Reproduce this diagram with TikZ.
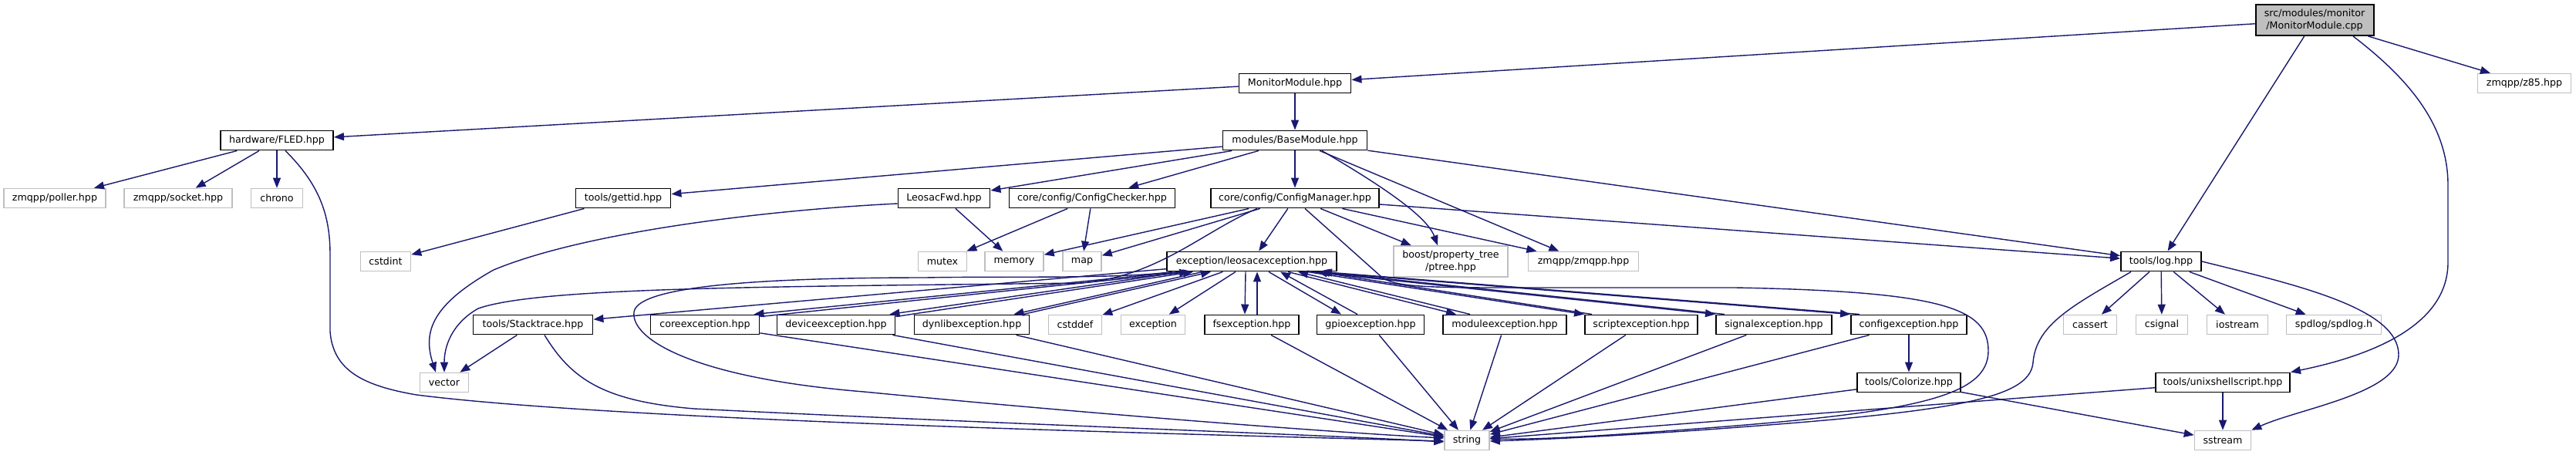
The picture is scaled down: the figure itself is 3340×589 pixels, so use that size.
\documentclass[tikz,border=0pt]{standalone}
\usepackage{fontspec}
\setmainfont{DejaVu Sans}
\usetikzlibrary{arrows.meta, calc}
\definecolor{edgeblue}{HTML}{191970}
\definecolor{sysgray}{HTML}{BFBFBF}

\begin{document}
\begin{tikzpicture}[
    x=0.02cm, y=-0.02cm,
    box/.style={
        draw=black, line width=1.1pt, fill=white, minimum height=0.5cm,
        inner sep=1pt, font=\fontsize{7.2}{8.6}\selectfont
    },
    sysbox/.style={box, draw=sysgray, line width=0.9pt},
    rootbox/.style={box, fill=sysgray, minimum height=0.8cm, align=center},
    boxw/.style={minimum width=#1*0.02cm},
    arrow/.style={
        -{Triangle[length=0.26cm, width=0.2cm]}, line width=0.8pt, edgeblue
    }
]
\useasboundingbox (0,0) rectangle (3340,589);

% top rows
\node[rootbox, boxw=153] (cpp) at (3001,26) {src/modules/monitor\\/MonitorModule.cpp};
\node[box, boxw=145] (mmh) at (1679,108) {MonitorModule.hpp};
\node[sysbox, boxw=121] (z85) at (3273,108) {zmqpp/z85.hpp};
\node[box, boxw=146] (fled) at (359,182) {hardware/FLED.hpp};
\node[box, boxw=187] (base) at (1679,182) {modules/BaseModule.hpp};

% third row
\node[sysbox, boxw=132] (poller) at (71,257) {zmqpp/poller.hpp};
\node[sysbox, boxw=140] (socket) at (231,257) {zmqpp/socket.hpp};
\node[sysbox, boxw=67] (chrono) at (359,257) {chrono};
\node[box, boxw=123] (gettid) at (808,257) {tools/gettid.hpp};
\node[box, boxw=119] (fwd) at (1224,257) {LeosacFwd.hpp};
\node[box, boxw=215] (checker) at (1416,257) {core/config/ConfigChecker.hpp};
\node[box, boxw=218] (manager) at (1679,257) {core/config/ConfigManager.hpp};

% fourth row
\node[sysbox, boxw=65] (cstdint) at (500,339) {cstdint};
\node[sysbox, boxw=63] (mutex) at (1222,339) {mutex};
\node[sysbox, boxw=76] (memory) at (1315,339) {memory};
\node[sysbox, boxw=50] (map) at (1403,339) {map};
\node[box, boxw=220] (leosac) at (1623,339) {exception/leosacexception.hpp};
\node[sysbox, boxw=148, minimum height=0.8cm, align=center] (ptree) at (1881,339) {boost/property\_tree\\/ptree.hpp};
\node[sysbox, boxw=143] (zmqpp) at (2053,339) {zmqpp/zmqpp.hpp};
\node[box, boxw=104] (log) at (2802,339) {tools/log.hpp};

% exception row
\node[box, boxw=155] (stack) at (691,421) {tools/Stacktrace.hpp};
\node[box, boxw=141] (coreex) at (914,421) {coreexception.hpp};
\node[box, boxw=153] (devex) at (1084,421) {deviceexception.hpp};
\node[box, boxw=149] (dynex) at (1260,421) {dynlibexception.hpp};
\node[sysbox, boxw=69] (cstddef) at (1394,421) {cstddef};
\node[sysbox, boxw=83] (excep) at (1495,421) {exception};
\node[box, boxw=122] (fsex) at (1623,421) {fsexception.hpp};
\node[box, boxw=139] (gpioex) at (1777,421) {gpioexception.hpp};
\node[box, boxw=160] (modex) at (1951,421) {moduleexception.hpp};
\node[box, boxw=146] (screx) at (2128,421) {scriptexception.hpp};
\node[box, boxw=150] (sigex) at (2300,421) {signalexception.hpp};
\node[box, boxw=150] (cfgex) at (2475,421) {configexception.hpp};
\node[sysbox, boxw=69] (cassert) at (2710,421) {cassert};
\node[sysbox, boxw=67] (csignal) at (2803,421) {csignal};
\node[sysbox, boxw=79] (iostream) at (2901,421) {iostream};
\node[sysbox, boxw=123] (spdlog) at (3026,421) {spdlog/spdlog.h};

% bottom rows
\node[sysbox, boxw=63] (vector) at (576,496) {vector};
\node[box, boxw=134] (colorize) at (2475,496) {tools/Colorize.hpp};
\node[box, boxw=174] (unix) at (2882,496) {tools/unixshellscript.hpp};
\node[sysbox, boxw=58] (string) at (1902,571) {string};
\node[sysbox, boxw=73] (sstream) at (2882,571) {sstream};

% MonitorModule.cpp
\draw[arrow] (cpp) -- (mmh);
\draw[arrow] (cpp) -- (z85);
\draw[arrow] (cpp) -- (log);
\draw[arrow] ($(cpp.south)+(50,0)$) .. controls (3120,100) and (3174,160) .. (3174,240)
    -- (3174,340) .. controls (3174,420) and (3080,460) .. (unix.north east);

% MonitorModule.hpp, FLED.hpp
\draw[arrow] (mmh) -- (fled);
\draw[arrow] (mmh) -- (base);
\foreach \n in {poller, socket, chrono} \draw[arrow] (fled) -- (\n);
\draw[arrow] ($(fled.south)+(11,0)$) .. controls (415,240) and (428,280) .. (428,330)
    -- (428,430) .. controls (432,480) and (470,500) .. (540,512)
    .. controls (800,545) and (1500,562) .. ($(string.west)+(0,1)$);

% BaseModule.hpp
\foreach \n in {gettid, fwd, checker, manager, zmqpp, log} \draw[arrow] (base) -- (\n);
\draw[arrow] ($(base.south)+(35,0)$) .. controls (1790,240) and (1850,280) .. ($(ptree.north)+(-17,0)$);

\draw[arrow] (gettid) -- (cstdint);
\draw[arrow] (fwd) -- (memory);
\draw[arrow] ($(fwd.west)+(0,7)$) .. controls (1000,272) and (760,300) .. (640,350)
    .. controls (560,395) and (548,430) .. ($(vector.north)+(-11,0)$);
\draw[arrow] (checker) -- (mutex);
\draw[arrow] (checker) -- (map);

% ConfigManager.hpp
\foreach \n in {memory, map, leosac, ptree, zmqpp, log} \draw[arrow] (manager) -- (\n);
\draw[arrow] ($(manager.south)+(-49,0)$) .. controls (1560,300) and (1500,360) .. (1400,367)
    .. controls (1000,372) and (700,372) .. (620,400)
    .. controls (585,420) and (576,450) .. (vector.north);
\draw[arrow] ($(manager.south)+(13,0)$) -- (1790,358) .. controls (1805,372) and (1850,373) .. (1950,373)
    -- (2250,373) .. controls (2520,378) and (2578,400) .. (2578,455)
    .. controls (2578,515) and (2480,535) .. (2200,556)
    .. controls (2080,565) and (2000,570) .. ($(string.east)+(0,-2)$);

% leosacexception.hpp
\draw[arrow] (leosac) -- (stack);
\draw[arrow] (leosac) -- (cstddef);
\draw[arrow] (leosac) -- (excep);
\draw[arrow] ($(leosac.south west)+(8,0)$) .. controls (1450,362) and (1300,358) .. (1200,360)
    .. controls (950,360) and (825,375) .. (822,405)
    .. controls (818,440) and (900,490) .. (1120,508)
    .. controls (1450,540) and (1750,562) .. ($(string.west)+(0,-3)$);

\draw[arrow] ($(leosac.south west)+(17,0)$) -- ($(coreex.north east)+(-8,0)$);
\draw[arrow] ($(coreex.north east)+(0,3)$) -- ($(leosac.south west)+(30,0)$);
\draw[arrow] ($(leosac.south west)+(22,0)$) -- ($(devex.north east)+(-8,0)$);
\draw[arrow] ($(devex.north east)+(0,3)$) -- ($(leosac.south west)+(35,0)$);
\draw[arrow] ($(leosac.south west)+(47,0)$) -- ($(dynex.north east)+(-21,0)$);
\draw[arrow] ($(dynex.north east)+(-9,0)$) -- ($(leosac.south west)+(58,0)$);
\draw[arrow] ($(leosac.south)+(-8,0)$) -- ($(fsex.north)+(-9,0)$);
\draw[arrow] ($(fsex.north)+(7,0)$) -- ($(leosac.south)+(7,0)$);
\draw[arrow] ($(leosac.south)+(22,0)$) -- ($(gpioex.north)+(-38,0)$);
\draw[arrow] ($(gpioex.north)+(-17,0)$) -- ($(leosac.south)+(37,0)$);
\draw[arrow] ($(leosac.south)+(47,0)$) -- ($(modex.north west)+(18,0)$);
\draw[arrow] ($(modex.north west)+(36,0)$) -- ($(leosac.south)+(60,0)$);
\draw[arrow] ($(leosac.south)+(72,0)$) -- (screx.north west);
\draw[arrow] ($(screx.north west)+(10,0)$) -- ($(leosac.south)+(85,0)$);
\draw[arrow] ($(leosac.south)+(77,0)$) -- (sigex.north west);
\draw[arrow] ($(sigex.north west)+(12,0)$) -- ($(leosac.south)+(88,0)$);
\draw[arrow] ($(leosac.south)+(82,0)$) -- (cfgex.north west);
\draw[arrow] ($(cfgex.north west)+(12,0)$) -- ($(leosac.south)+(91,0)$);

% down to string
\foreach \n in {coreex, devex, dynex, fsex, gpioex, modex, screx, sigex, cfgex} \draw[arrow] (\n) -- (string);
\draw[arrow] (cfgex) -- (colorize);
\draw[arrow] (colorize) -- (string);
\draw[arrow] (colorize) -- (sstream);
\draw[arrow] (unix) -- (string);
\draw[arrow] (unix) -- (sstream);

% Stacktrace.hpp
\draw[arrow] (stack) -- (vector);
\draw[arrow] ($(stack.south)+(15,0)$) .. controls (740,490) and (780,520) .. (900,530)
    .. controls (1300,550) and (1700,563) .. ($(string.west)+(0,2)$);

% log.hpp
\foreach \n in {cassert, csignal, iostream, spdlog} \draw[arrow] (log) -- (\n);
\draw[arrow] (log.east) .. controls (2980,370) and (3110,400) .. (3110,460)
    .. controls (3110,510) and (2980,530) .. (sstream.north east);
\draw[arrow] ($(log.south west)+(14,0)$) .. controls (2690,395) and (2640,420) .. (2636,470)
    .. controls (2632,520) and (2520,535) .. (2200,558)
    .. controls (2080,566) and (2000,570) .. ($(string.east)+(0,1)$);

\end{tikzpicture}
\end{document}
